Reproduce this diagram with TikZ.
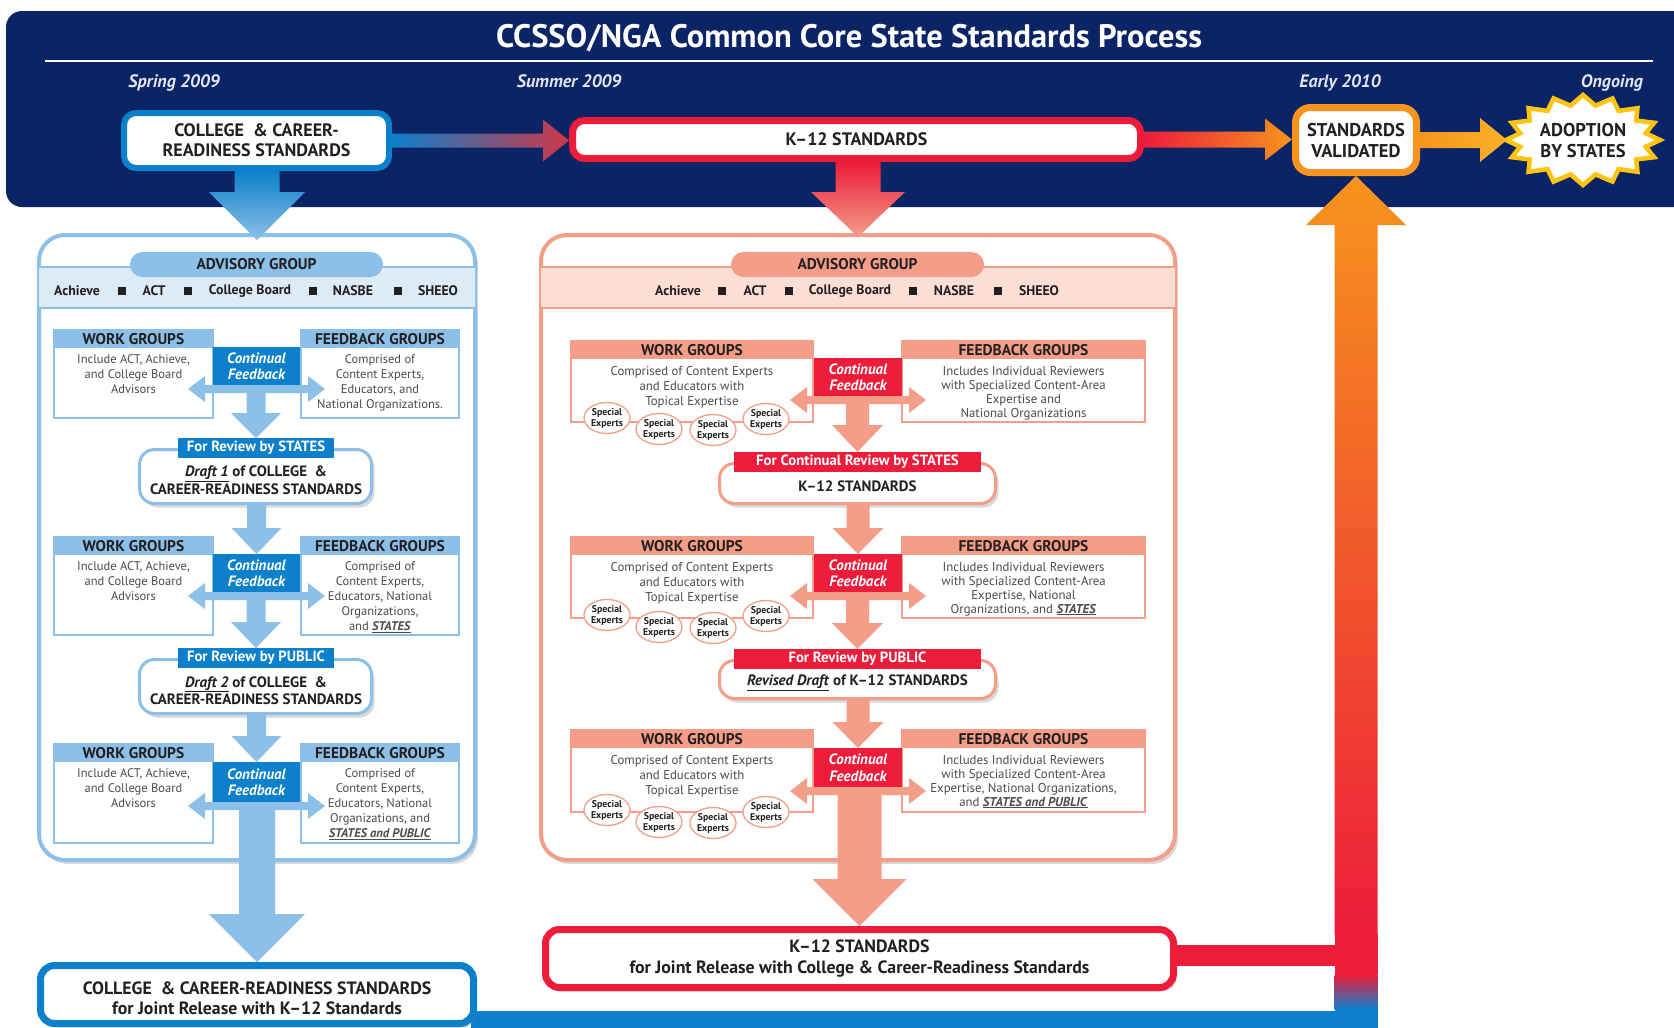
\documentclass[tikz,border=0pt]{standalone}
\usepackage{fontspec}
\setmainfont{PT Sans}
\usetikzlibrary{calc,shadows,shapes.geometric}
\pgfdeclarelayer{back}
\pgfsetlayers{back,main}
\definecolor{navy}{RGB}{11,36,101}
\definecolor{bblue}{RGB}{12,128,203}
\definecolor{lblue}{RGB}{141,192,232}
\definecolor{lband}{RGB}{221,235,247}
\definecolor{pred}{RGB}{237,28,58}
\definecolor{salmon}{RGB}{244,158,138}
\definecolor{lsal}{RGB}{252,222,212}
\definecolor{orng}{RGB}{247,148,29}
\definecolor{ystar}{RGB}{253,196,18}
\definecolor{txt}{RGB}{35,31,32}
\definecolor{bodytxt}{RGB}{75,75,75}
\definecolor{timec}{RGB}{225,230,240}
\definecolor{hred}{RGB}{205,55,70}
\definecolor{mixc}{RGB}{110,110,160}
\definecolor{yorng}{RGB}{251,178,40}
\newcommand\fsz[2]{\fontsize{#1}{#2}\selectfont}
\newcommand\vflow[6]{\path[#6] let \p1=(#1), \p2=(#2) in ({\x2-#3pt},{\y1}) -- ({\x2+#3pt},{\y1}) -- ({\x2+#3pt},{\y2+(#5pt)}) -- ({\x2+#4pt},{\y2+(#5pt)}) -- ({\x2},{\y2}) -- ({\x2-#4pt},{\y2+(#5pt)}) -- ({\x2-#3pt},{\y2+(#5pt)}) -- cycle;}
\newcommand\hflow[6]{\path[#6] let \p1=(#1), \p2=(#2) in (\x1,\y1-#3pt) -- (\x2-#5pt,\y1-#3pt) -- (\x2-#5pt,\y1-#4pt) -- (\x2,\y1) -- (\x2-#5pt,\y1+#4pt) -- (\x2-#5pt,\y1+#3pt) -- (\x1,\y1+#3pt) -- cycle;}
\newcommand\lrflow[3]{\fill[#2] let \p1=(#1.south) in (\x1-#3pt,\y1-4pt) -- (\x1-#3pt+17pt,\y1+9pt) -- (\x1-#3pt+17pt,\y1) -- (\x1+#3pt-17pt,\y1) -- (\x1+#3pt-17pt,\y1+9pt) -- (\x1+#3pt,\y1-4pt) -- (\x1+#3pt-17pt,\y1-17pt) -- (\x1+#3pt-17pt,\y1-8pt) -- (\x1-#3pt+17pt,\y1-8pt) -- (\x1-#3pt+17pt,\y1-17pt) -- cycle;}
\newcommand\grp[9]{%
 \node[draw=#8, line width=1.3pt, fill=white, minimum width={#4-#2}, minimum height={#5-#3}] (#1) at ({(#2+#4)/2},{(#3+#5)/2}) {};
 \node[fill=#8, minimum width={#4-#2}, minimum height=17.5, font=\bfseries\fsz{15.5}{17}, text=txt] (#1h) at ({(#2+#4)/2},{#3+8.75}) {#6};
 \node[anchor=north, align=center, font=#9, text=bodytxt] (#1t) at ({(#2+#4)/2},{#3+25}) {#7};}
\tikzset{
  every node/.style={inner sep=0pt, outer sep=0pt},
  topbox/.style={draw, fill=white, rounded corners=12pt, align=center, text=txt, font=\bfseries\fsz{18}{20}},
  timel/.style={anchor=base, font=\bfseries\itshape\fsz{18}{20}, text=timec},
  panelst/.style={draw, fill=white, line width=4pt, rounded corners=26pt, drop shadow={shadow xshift=3pt, shadow yshift=-4pt, opacity=.3}},
  pillst/.style={rounded corners=12.5pt, minimum width=253, minimum height=25, font=\bfseries\fsz{15.5}{17}, text=txt},
  orgst/.style={font=\bfseries\fsz{13.8}{15}, text=txt},
  sqst/.style={fill=txt, minimum size=7.5},
  cfst/.style={align=center, text=white, font=\bfseries\itshape\fsz{15}{16.5}},
  revst/.style={text=white, font=\bfseries\fsz{14.8}{16}, minimum height=20},
  draftst/.style={draw, fill=white, line width=3pt, rounded corners=15pt, drop shadow={shadow xshift=3pt, shadow yshift=-4pt, opacity=.3}},
  drafttxt/.style={align=center, text=txt, font=\bfseries\fsz{15}{17.5}},
  spxst/.style={ellipse, draw=salmon, fill=white, line width=1.3pt, minimum width=46, minimum height=31, align=center, font=\bfseries\fsz{9.8}{11}, text=txt},
  finalst/.style={draw, fill=white, line width=7pt, rounded corners=14pt, outer sep=3.5pt, align=center, text=txt, font=\bfseries\fsz{17.8}{20.5}, drop shadow={shadow xshift=3pt, shadow yshift=-4pt, opacity=.3}},
}
\begin{document}
\begin{tikzpicture}[x=1pt,y=-1pt]
\useasboundingbox (0,0) rectangle (1674,1028);
\clip (0,0) rectangle (1674,1028);
\begin{pgfonlayer}{back}
\fill[white] (0,0) rectangle (1674,1028);
\fill[navy, rounded corners=16pt] (6,11) rectangle (1720,207);
\end{pgfonlayer}
% header
\node[font=\bfseries\fsz{32.5}{36}, text=white] (title) at (849,38) {CCSSO/NGA Common Core State Standards Process};
\draw[white, line width=1.6pt] (45,61) -- (1653,61);
\node[timel] (tspring) at (174,87) {Spring 2009};
\node[timel] (tsummer) at (569,87) {Summer 2009};
\node[timel] (tearly) at (1340,87) {Early 2010};
\node[timel] (tongo) at (1612,87) {Ongoing};

% panels
\node[panelst, draw=lblue, minimum width=436, minimum height=625] (lpanel) at (257,547.5) {};
\node[panelst, draw=salmon, minimum width=634, minimum height=625] (rpanel) at (858,547.5) {};
\node[fill=lband, minimum width=436, minimum height=41] (lbandn) at (257,287.5) {};
\draw[lblue, line width=2pt] (lbandn.north west) -- (lbandn.north east) (lbandn.south west) -- (lbandn.south east);
\node[fill=lsal, minimum width=634, minimum height=41] (rbandn) at (858,287.5) {};
\draw[salmon, line width=2pt] (rbandn.north west) -- (rbandn.north east) (rbandn.south west) -- (rbandn.south east);
\node[pillst, fill=lblue] (lpill) at (256.5,264.5) {ADVISORY GROUP};
\node[pillst, fill=salmon] (rpill) at (857.5,264.5) {ADVISORY GROUP};
\foreach \t/\x [count=\i] in {Achieve/77, ACT/154, College Board/250, NASBE/353, SHEEO/438} \node[orgst] (lorg\i) at (\x,291) {\t};
\foreach \x [count=\i] in {122,188,313,398} \node[sqst] (lsq\i) at (\x,291) {};
\foreach \t/\x [count=\i] in {Achieve/678, ACT/755, College Board/850, NASBE/954, SHEEO/1039} \node[orgst] (rorg\i) at (\x,291) {\t};
\foreach \x [count=\i] in {722,789,913,998} \node[sqst] (rsq\i) at (\x,291) {};

% left groups
\grp{lwg1}{54}{330}{213}{418}{WORK GROUPS}{Include ACT, Achieve,\\and College Board\\Advisors}{lblue}{\fsz{12.5}{15}}
\grp{lfb1}{301}{330}{459}{418}{FEEDBACK GROUPS}{Comprised of\\Content Experts,\\Educators, and\\National Organizations.}{lblue}{\fsz{12.5}{15}}
\grp{lwg2}{54}{537}{213}{635}{WORK GROUPS}{Include ACT, Achieve,\\and College Board\\Advisors}{lblue}{\fsz{12.5}{15}}
\grp{lfb2}{301}{537}{459}{635}{FEEDBACK GROUPS}{Comprised of\\Content Experts,\\Educators, National\\Organizations,\\and \underline{\textbf{\textit{STATES}}}}{lblue}{\fsz{12.5}{15}}
\grp{lwg3}{54}{744}{213}{843}{WORK GROUPS}{Include ACT, Achieve,\\and College Board\\Advisors}{lblue}{\fsz{12.5}{15}}
\grp{lfb3}{301}{744}{459}{843}{FEEDBACK GROUPS}{Comprised of\\Content Experts,\\Educators, National\\Organizations, and\\\underline{\textbf{\textit{STATES and PUBLIC}}}}{lblue}{\fsz{12.5}{15}}

% right groups
\grp{rwg1}{571}{341}{813}{422}{WORK GROUPS}{Comprised of Content Experts\\and Educators with\\Topical Expertise}{salmon}{\fsz{12.8}{15}}
\grp{rfb1}{902}{341}{1145}{422}{FEEDBACK GROUPS}{Includes Individual Reviewers\\with Specialized Content-Area\\Expertise and\\National Organizations}{salmon}{\fsz{12.8}{14}}
\grp{rwg2}{571}{537}{813}{618}{WORK GROUPS}{Comprised of Content Experts\\and Educators with\\Topical Expertise}{salmon}{\fsz{12.8}{15}}
\grp{rfb2}{902}{537}{1145}{618}{FEEDBACK GROUPS}{Includes Individual Reviewers\\with Specialized Content-Area\\Expertise, National\\Organizations, and \underline{\textbf{\textit{STATES}}}}{salmon}{\fsz{12.8}{14}}
\grp{rwg3}{571}{730}{813}{812}{WORK GROUPS}{Comprised of Content Experts\\and Educators with\\Topical Expertise}{salmon}{\fsz{12.8}{15}}
\grp{rfb3}{902}{730}{1145}{812}{FEEDBACK GROUPS}{Includes Individual Reviewers\\with Specialized Content-Area\\Expertise, National Organizations,\\and \underline{\textbf{\textit{STATES and PUBLIC}}}}{salmon}{\fsz{12.8}{14}}

% special experts
\foreach \r/\ya/\yb/\yc/\yd in {1/418/429/430/419, 2/615/627/628/616, 3/810/822/823/812}{
  \node[spxst] (rsx\r a) at (607,\ya) {Special\\Experts};
  \node[spxst] (rsx\r b) at (659,\yb) {Special\\Experts};
  \node[spxst] (rsx\r c) at (713,\yc) {Special\\Experts};
  \node[spxst] (rsx\r d) at (766,\yd) {Special\\Experts};
}

% continual feedback
\node[cfst, fill=bblue, minimum width=87, minimum height=38] (lcf1) at (256.5,366) {Continual\\Feedback};
\node[cfst, fill=bblue, minimum width=87, minimum height=38] (lcf2) at (256.5,573) {Continual\\Feedback};
\node[cfst, fill=bblue, minimum width=87, minimum height=40] (lcf3) at (256.5,782) {Continual\\Feedback};
\node[cfst, fill=pred, minimum width=88, minimum height=38] (rcf1) at (858,377) {Continual\\Feedback};
\node[cfst, fill=pred, minimum width=88, minimum height=38] (rcf2) at (858,573) {Continual\\Feedback};
\node[cfst, fill=pred, minimum width=88, minimum height=39] (rcf3) at (858,767.5) {Continual\\Feedback};

% drafts
\node[draftst, draw=lblue, minimum width=232, minimum height=54] (ldraft1) at (255.5,476.5) {};
\node[drafttxt] (ldraft1t) at (256,480) {\underline{\textit{Draft 1}} of COLLEGE \ \&\\CAREER-READINESS STANDARDS};
\node[revst, fill=bblue, minimum width=156] (lrev1) at (256,448) {For Review by STATES};
\node[draftst, draw=lblue, minimum width=232, minimum height=54] (ldraft2) at (255.5,686.5) {};
\node[drafttxt] (ldraft2t) at (256,690.5) {\underline{\textit{Draft 2}} of COLLEGE \ \&\\CAREER-READINESS STANDARDS};
\node[revst, fill=bblue, minimum width=156] (lrev2) at (256,658) {For Review by PUBLIC};
\node[draftst, draw=salmon, minimum width=276, minimum height=40] (rk12) at (857.5,483.5) {};
\node[drafttxt] (rk12t) at (857.5,486) {K–12 STANDARDS};
\node[revst, fill=pred, minimum width=247] (rrev1) at (857.5,462) {For Continual Review by STATES};
\node[draftst, draw=salmon, minimum width=276, minimum height=38] (rdraft) at (857.5,679.5) {};
\node[drafttxt] (rdraftt) at (857.5,682.5) {\underline{\textit{Revised Draft}} of K–12 STANDARDS};
\node[revst, fill=pred, minimum width=247] (rrev2) at (857.5,659) {For Review by PUBLIC};

% final boxes
\node[finalst, draw=bblue, minimum width=433, minimum height=58] (lfinal) at (257,994.5) {};
\node[align=center, text=txt, font=\bfseries\fsz{17.8}{20.5}] (lfinalt) at (257,998.5) {COLLEGE \ \& CAREER-READINESS STANDARDS\\for Joint Release with K–12 Standards};
\node[finalst, draw=pred, minimum width=628, minimum height=58] (rfinal) at (859.5,958.5) {K–12 STANDARDS\\for Joint Release with College \& Career-Readiness Standards};

% top boxes
\node[topbox, draw=bblue, line width=6pt, outer sep=3pt, minimum width=265, minimum height=55] (ccr) at (256.5,140.5) {COLLEGE \ \& CAREER-\\READINESS STANDARDS};
\node[topbox, draw=pred, line width=7pt, outer sep=3.5pt, minimum width=568, minimum height=38] (k12top) at (856.5,139.5) {K–12 STANDARDS};
\node[topbox, draw=orng, line width=7pt, outer sep=3.5pt, minimum width=121, minimum height=65, rounded corners=15pt, font=\bfseries\fsz{18.5}{21}] (sv) at (1356,140) {STANDARDS\\VALIDATED};
\draw[draw=ystar, line width=4.5pt, fill=white, line join=miter] (1660,140) \foreach \i in {1,...,31}{ -- ({1583+(77-13*mod(\i,2))*cos(\i*11.25)},{140+(45-10*mod(\i,2))*sin(\i*11.25)}) } -- cycle;
\node[align=center, text=txt, font=\bfseries\fsz{18.5}{21}] (adopt) at (1583,141) {ADOPTION\\BY STATES};
\coordinate (adoptw) at (1507,140);
\coordinate (lpin) at ($(lpanel.north)+(0,5)$);
\coordinate (rpin) at ($(rpanel.north)+(0,2)$);

% top arrows
\hflow{ccr.east}{k12top.west}{7}{21}{26}{left color=bblue, middle color=mixc, right color=hred}
\hflow{k12top.east}{sv.west}{8}{21}{27}{left color=pred, right color=orng}
\hflow{sv.east}{adoptw}{8}{22}{27}{left color=orng, right color=yorng}
\vflow{ccr.south}{lpin}{22.5}{48}{48}{top color=bblue, bottom color=lblue}
\vflow{k12top.south}{rpin}{22.5}{47}{45}{top color=pred, bottom color=salmon}

% left panel arrows
\lrflow{lcf1}{lblue}{68.5}
\lrflow{lcf2}{lblue}{68.5}
\lrflow{lcf3}{lblue}{68.5}
\vflow{lcf1.south}{lrev1.north}{9.5}{25}{25}{fill=lblue}
\vflow{ldraft1.south}{lcf2.north}{9.5}{25}{26}{fill=lblue}
\vflow{lcf2.south}{lrev2.north}{9.5}{25}{26}{fill=lblue}
\vflow{ldraft2.south}{lcf3.north}{9.5}{25}{26}{fill=lblue}
\vflow{lcf3.south}{lfinal.north}{18}{48}{48}{fill=lblue}

% right panel arrows
\lrflow{rcf1}{salmon}{68}
\lrflow{rcf2}{salmon}{68}
\lrflow{rcf3}{salmon}{68}
\vflow{rcf1.south}{rrev1.north}{11.5}{25.5}{27}{fill=salmon}
\vflow{rk12.south}{rcf2.north}{11.5}{25.5}{26}{fill=salmon}
\vflow{rcf2.south}{rrev2.north}{11.5}{25.5}{26}{fill=salmon}
\vflow{rdraft.south}{rcf3.north}{11.5}{25.5}{26}{fill=salmon}
\vflow{rcf3.south}{rfinal.north}{22}{47}{47}{fill=salmon}

% bottom connectors and validation arrow
\coordinate (upfoot) at (1356,1028);
\coordinate (upmid) at (1356,935);
\coordinate (lbar) at ($(lfinal.east)+(-6,16)$);
\coordinate (ubar1) at ($(upmid)+(-21.5,-1)$);
\coordinate (ubar2) at ($(upmid)+(21.5,40)$);
\coordinate (ubar3) at ($(upmid)+(-21.5,40)$);
\coordinate (ubar4) at ($(upmid)+(21.5,74)$);
\coordinate (ubar5) at ($(upmid)+(-21.5,73.5)$);
\coordinate (ubar6) at ($(upfoot)+(21.5,0)$);
\begin{pgfonlayer}{back}
\fill[bblue] (lbar) rectangle (ubar6);
\fill[pred] let \p1=(rfinal.east), \p2=(upmid) in (\x1-6pt,\y1+13.5pt) rectangle (\x2,\y1-7.5pt);
\vflow{upmid}{sv.south}{21.5}{50}{-49}{top color=orng, bottom color=pred}
\fill[pred] (ubar1) rectangle (ubar2);
\shade[top color=pred, bottom color=bblue] (ubar3) rectangle (ubar4);
\fill[bblue] (ubar5) rectangle (ubar6);
\end{pgfonlayer}
\end{tikzpicture}
\end{document}
